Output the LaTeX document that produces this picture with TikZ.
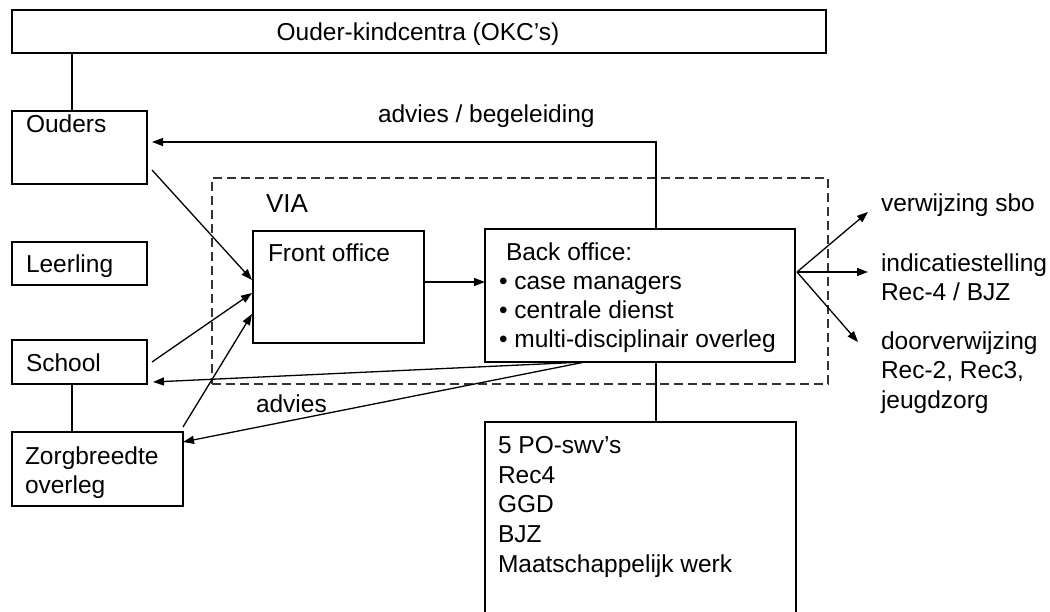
\documentclass[tikz,border=0pt]{standalone}
\usepackage{fontspec}
\setmainfont{Liberation Sans}
\usetikzlibrary{arrows.meta,calc}
\tikzset{
  box/.style={draw, line width=1.3pt, rectangle, inner sep=0pt, outer sep=0pt, anchor=north west},
  viabox/.style={draw=black!80, line width=1.2pt, dash pattern=on 9pt off 5pt, rectangle, inner sep=0pt, outer sep=0pt, anchor=north west},
  txt/.style={anchor=base west, inner sep=0pt, outer sep=0pt, font=\fontsize{24.5}{29}\selectfont},
  conn/.style={line width=1.3pt},
  arr/.style={line width=1.3pt, -{Triangle[length=11pt,width=8pt]}}
}
\begin{document}
\begin{tikzpicture}[x=1pt,y=-1pt]
\useasboundingbox (0,0) rectangle (1050,612);
\clip (0,0) rectangle (1050,612);
\fill[white] (0,0) rectangle (1050,612);

% boxes
\node[box, minimum width=814pt, minimum height=43pt] (okc) at (12,10) {};
\node[box, minimum width=135pt, minimum height=73pt] (ouders) at (12,111) {};
\node[box, minimum width=135pt, minimum height=43pt] (leerling) at (12,242) {};
\node[box, minimum width=135pt, minimum height=44pt] (school) at (12,340) {};
\node[box, minimum width=171pt, minimum height=74pt] (zorg) at (12,432) {};
\node[viabox, minimum width=616pt, minimum height=206pt] (via) at (212,178) {};
\node[box, minimum width=171pt, minimum height=112pt] (front) at (253,231) {};
\node[box, minimum width=310pt, minimum height=133pt] (back) at (485,229) {};
\node[box, minimum width=311pt, minimum height=230pt] (partners) at (485,422) {};

% texts
\node[txt, anchor=base] (okct) at (418,41) {Ouder-kindcentra (OKC’s)};
\node[txt] (oudt) at (26,133) {Ouders};
\node[txt] (leert) at (26,273) {Leerling};
\node[txt] (scht) at (26,371) {School};
\node[txt] (zorgt1) at (25,464) {Zorgbreedte};
\node[txt] (zorgt2) at (25,493) {overleg};
\node[txt, font=\fontsize{26}{30}\selectfont] (viat) at (266,213) {VIA};
\node[txt] (frontt) at (268,262) {Front office};
\node[txt] (backt0) at (506,261) {Back office:};
\node[txt] (backt1) at (499,290) {• case managers};
\node[txt] (backt2) at (499,319) {• centrale dienst};
\node[txt] (backt3) at (499,348) {• multi-disciplinair overleg};
\node[txt] (r1) at (881,212) {verwijzing sbo};
\node[txt] (r2) at (881,272) {indicatiestelling};
\node[txt] (r2b) at (881,301) {Rec-4 / BJZ};
\node[txt] (r3) at (881,350) {doorverwijzing};
\node[txt] (r3b) at (881,379) {Rec-2, Rec3,};
\node[txt] (r3c) at (881,408) {jeugdzorg};
\node[txt] (lab1) at (378,123) {advies / begeleiding};
\node[txt] (lab2) at (256,412) {advies};
\node[txt] (p1) at (498,453) {5 PO-swv’s};
\node[txt] (p2) at (498,483) {Rec4};
\node[txt] (p3) at (498,512) {GGD};
\node[txt] (p4) at (498,542) {BJZ};
\node[txt] (p5) at (498,572) {Maatschappelijk werk};

% plain connectors
\coordinate (c1) at ($(ouders.north west)+(60,0)$);
\draw[conn] (c1) -- (c1 |- okc.south);
\coordinate (c2) at ($(zorg.north west)+(60,0)$);
\draw[conn] (c2) -- (c2 |- school.south);
\coordinate (bt) at ($(back.north west)+(171,0)$);
\coordinate (bb) at ($(back.south west)+(171,0)$);
\draw[conn] (bb) -- (bb |- partners.north);

% arrows
\draw[arr] (bt) |- ($(ouders.north east)+(5,31)$);
\draw[arr] ($(front.north east)+(0,51)$) -- ($(back.north west)+(0,53)$);
\draw[arr] ($(ouders.south east)+(5,-14)$) -- ($(front.north west)+(-1,49)$);
\draw[arr] ($(school.north east)+(5,22)$) -- ($(front.north west)+(-1,62)$);
\draw[arr] ($(zorg.north east)+(0,-5)$) -- ($(front.north west)+(-1,83)$);
\coordinate (bo) at ($(back.south west)+(100,0)$);
\draw[arr] (bo) -- ($(school.south east)+(6,-2)$);
\draw[arr] (bo) -- ($(zorg.north east)+(0,10)$);
\coordinate (br) at ($(back.north east)+(2,43)$);
\draw[arr] (br) -- ($(r1.base west)+(-13,0)$);
\draw[arr] (br) -- ($(r2.base west)+(-13,0)$);
\draw[arr] (br) -- ($(r3.base west)+(-23,-8)$);
\end{tikzpicture}
\end{document}
